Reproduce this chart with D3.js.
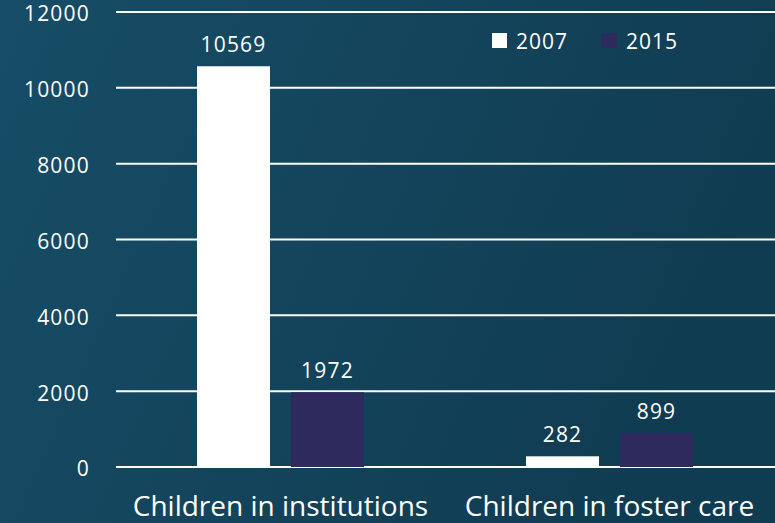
<!DOCTYPE html>
<html>
<head>
<meta charset="utf-8">
<script src="https://cdn.jsdelivr.net/npm/d3@7"></script>
<style>
  html, body { margin: 0; padding: 0; background: #144660; }
  svg { display: block; }
  text { font-family: "Open Sans", "Noto Sans", sans-serif; fill: #ffffff; }
</style>
</head>
<body>
<svg id="chart" width="775" height="523"></svg>
<script>
const categories = ["Children in institutions", "Children in foster care"];
const seriesNames = ["2007", "2015"];
const values2007 = [10569, 282];
const values2015 = [1972, 899];
const yTicks = [0, 2000, 4000, 6000, 8000, 10000, 12000];
const seriesColors = ["#ffffff", "#2e2a5e"];

const W = 775, H = 523;
const svg = d3.select("#chart");

const defs = svg.append("defs");
const grad = defs.append("linearGradient").attr("id", "bg").attr("x1", "0").attr("y1", "0").attr("x2", "1").attr("y2", "0.3");
grad.append("stop").attr("offset", "0").attr("stop-color", "#174d67");
grad.append("stop").attr("offset", "1").attr("stop-color", "#103c51");
svg.append("rect").attr("width", W).attr("height", H).attr("fill", "url(#bg)");

const y = d3.scaleLinear().domain([0, 12000]).range([467, 12]);
const x0 = d3.scaleBand().domain(categories).range([116, 774]).padding(0);
const x1 = d3.scaleBand().domain(seriesNames).range([0, 167]).paddingInner(0.223).paddingOuter(0);

// gridlines
svg.append("g").selectAll("line").data(yTicks).join("line")
  .attr("x1", 116).attr("x2", W)
  .attr("y1", d => y(d)).attr("y2", d => y(d))
  .attr("stroke", "#ffffff").attr("stroke-width", 2);

// y tick labels
svg.append("g").selectAll("text").data(yTicks).join("text")
  .attr("x", 90).attr("y", d => y(d))
  .attr("dy", "0.45em")
  .attr("text-anchor", "end")
  .attr("font-size", 21)
  .attr("letter-spacing", 1.2)
  .text(d => d);

const data = categories.map((c, i) => ({ cat: c, vals: [values2007[i], values2015[i]] }));

const groups = svg.append("g").selectAll("g").data(data).join("g")
  .attr("transform", d => `translate(${x0(d.cat) + x0.bandwidth() / 2 - 83.5},0)`);

groups.selectAll("rect").data(d => d.vals.map((v, j) => ({ s: seriesNames[j], v, j }))).join("rect")
  .attr("x", d => x1(d.s))
  .attr("width", x1.bandwidth())
  .attr("y", d => y(d.v))
  .attr("height", d => y(0) - y(d.v))
  .attr("fill", d => seriesColors[d.j]);

groups.selectAll("text.val").data(d => d.vals.map((v, j) => ({ s: seriesNames[j], v, j }))).join("text")
  .attr("class", "val")
  .attr("x", d => x1(d.s) + x1.bandwidth() / 2)
  .attr("y", d => y(d.v) - 14)
  .attr("text-anchor", "middle")
  .attr("font-size", 21)
  .attr("letter-spacing", 1.2)
  .text(d => d.v);

// category labels
svg.append("g").selectAll("text").data(categories).join("text")
  .attr("x", d => x0(d) + x0.bandwidth() / 2)
  .attr("y", 516)
  .attr("text-anchor", "middle")
  .attr("font-size", 28)
  .text(d => d);

// legend
const legendX = [492, 602];
const leg = svg.append("g").selectAll("g").data(seriesNames).join("g")
  .attr("transform", (d, i) => `translate(${legendX[i]},33)`);
leg.append("rect").attr("width", 15).attr("height", 15).attr("fill", (d, i) => seriesColors[i]);
leg.append("text").attr("x", 24).attr("y", 16).attr("font-size", 21).attr("letter-spacing", 1).text(d => d);
</script>
</body>
</html>
